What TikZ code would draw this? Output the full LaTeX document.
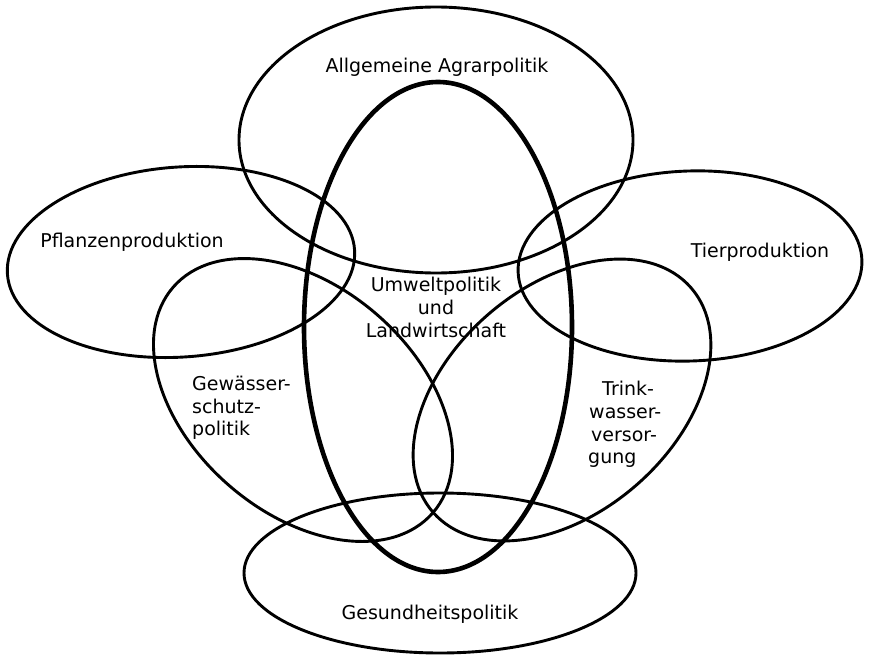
\documentclass[tikz,border=0pt]{standalone}
\usepackage{fontspec}
\setmainfont{DejaVu Sans}
\begin{document}
\begin{tikzpicture}[x=1pt,y=-1pt,
  ring/.style={line width=2.9pt, black},
  mainring/.style={line width=4.6pt, black},
  lbl/.style={font=\fontsize{19}{23}\selectfont, inner sep=0pt, anchor=base},
  lblw/.style={lbl, anchor=base west}]
\useasboundingbox[fill=white] (0,0) rectangle (869,655);
% ellipses
\draw[ring] (436,140) ellipse [x radius=197, y radius=133];
\draw[ring, rotate around={4:(181,262)}] (181,262) ellipse [x radius=174, y radius=95];
\draw[ring, rotate around={2:(690,266)}] (690,266) ellipse [x radius=172, y radius=95];
\draw[ring, rotate around={-41:(303,400)}] (303,400) ellipse [x radius=172, y radius=113];
\draw[ring, rotate around={41:(562,400)}] (562,400) ellipse [x radius=171, y radius=113];
\draw[ring] (440,573) ellipse [x radius=196, y radius=80];
\draw[mainring] (438,327) ellipse [x radius=134, y radius=245];
% labels
\node[lbl] (agrar) at (437,73) {Allgemeine Agrarpolitik};
\node[lbl] (pflanz) at (132,247) {Pflanzenproduktion};
\node[lbl] (tier) at (760,257) {Tierproduktion};
\node[lbl] (umw1) at (436,291) {Umweltpolitik};
\node[lbl] (umw2) at (436,314) {und};
\node[lbl] (umw3) at (436,337) {Landwirtschaft};
\node[lblw] (gew1) at (192,390) {Gewässer-};
\node[lblw] (gew2) at (192,413) {schutz-};
\node[lblw] (gew3) at (192,435) {politik};
\node[lblw] (tw1) at (602,395) {Trink-};
\node[lblw] (tw2) at (589,418) {wasser-};
\node[lblw] (tw3) at (591,441) {versor-};
\node[lblw] (tw4) at (588,463) {gung};
\node[lbl] (gesund) at (430,619) {Gesundheitspolitik};
\end{tikzpicture}
\end{document}
